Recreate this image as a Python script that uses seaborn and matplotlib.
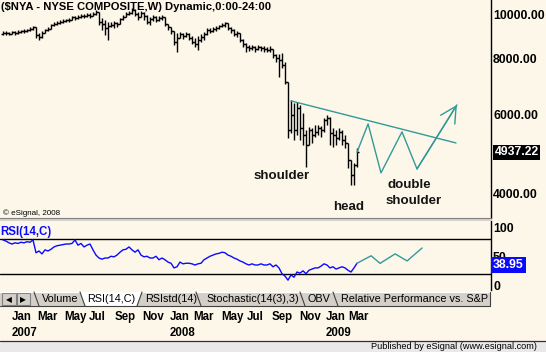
import numpy as np
import pandas as pd
import matplotlib
matplotlib.use("Agg")
import matplotlib.pyplot as plt
import seaborn as sns
from matplotlib.patches import Rectangle, Polygon
from matplotlib.transforms import blended_transform_factory, Bbox
import matplotlib.ticker as mticker

# ---------------- data ----------------
week = list(range(119))
open_ = [9070, 9117, 9117, 9070, 9164, 9117, 9164, 9211, 9211, 9258,
         9306, 9402, 9023, 8931, 9117, 9258, 9306, 9499, 9548, 9597,
         9647, 9696, 9746, 9746, 9898, 9847, 9898, 9949, 9949, 10000,
         9949, 10052, 10155, 9647, 9548, 9354, 9450, 9499, 9597, 9548,
         9797, 9898, 10052, 10103, 10260, 10052, 9898, 10103, 9949, 9647,
         9797, 9898, 9746, 9847, 9898, 9548, 9402, 9211, 8704, 8885,
         9070, 8977, 9070, 8885, 8704, 8615, 8794, 8931, 9070, 9258,
         9211, 9306, 9354, 9450, 9499, 9597, 9354, 9258, 9070, 9117,
         8794, 8615, 8484, 8440, 8484, 8397, 8484, 8440, 8397, 8354,
         8397, 8142, 8018, 7936, 7734, 7088, 5539, 5982, 5539, 6201,
         5596, 5398, 5128, 5539, 5398, 5482, 5596, 5539, 5831, 5891,
         5454, 5398, 5316, 5482, 5261, 5180, 4748, 4396, 4627]
high = [9211, 9211, 9164, 9211, 9211, 9258, 9258, 9306, 9306, 9402,
        9450, 9402, 9117, 9211, 9306, 9402, 9548, 9647, 9696, 9746,
        9797, 9797, 9847, 9949, 9949, 10000, 10052, 10052, 10103, 10103,
        10155, 10260, 10155, 9847, 9746, 9647, 9647, 9696, 9647, 9847,
        10000, 10155, 10208, 10366, 10313, 10155, 10208, 10155, 10000, 9898,
        10000, 9949, 9949, 10000, 9898, 9548, 9402, 9211, 9117, 9164,
        9117, 9164, 9117, 8977, 8885, 8977, 9070, 9164, 9354, 9354,
        9402, 9450, 9499, 9597, 9647, 9597, 9402, 9306, 9211, 9117,
        8840, 8660, 8571, 8571, 8527, 8571, 8527, 8527, 8484, 8527,
        8397, 8184, 8184, 8226, 7855, 7088, 6462, 6363, 6396, 6298,
        6044, 5539, 5625, 5596, 5683, 5683, 5654, 5891, 5982, 5921,
        5596, 5539, 5596, 5539, 5398, 5180, 4748, 4675, 5049]
low = [9023, 9023, 9023, 9070, 9023, 9070, 9117, 9117, 9164, 9211,
       9258, 8885, 8794, 8885, 9117, 9211, 9306, 9450, 9499, 9548,
       9597, 9647, 9647, 9746, 9746, 9797, 9847, 9847, 9898, 9847,
       9949, 10000, 9499, 9258, 9023, 8794, 9402, 9354, 9402, 9548,
       9746, 9898, 10000, 10052, 9949, 9746, 9898, 9746, 9548, 9499,
       9696, 9647, 9696, 9746, 9450, 9258, 9070, 8571, 8269, 8885,
       8840, 8931, 8794, 8615, 8484, 8354, 8704, 8794, 9023, 9117,
       9164, 9211, 9306, 9402, 9402, 9258, 9117, 8977, 8931, 8704,
       8484, 8269, 8311, 8354, 8269, 8354, 8311, 8269, 8269, 8269,
       8018, 7855, 7273, 7616, 7015, 5316, 5454, 5261, 5398, 5261,
       5128, 4580, 5128, 5180, 5343, 5398, 5343, 5482, 5683, 5128,
       5075, 5128, 5261, 5128, 5049, 4556, 4176, 4176, 4580]
close = [9117, 9117, 9070, 9164, 9117, 9164, 9211, 9211, 9258, 9306,
         9402, 9023, 8931, 9117, 9258, 9306, 9499, 9548, 9597, 9647,
         9696, 9746, 9746, 9898, 9847, 9898, 9949, 9949, 10000, 9949,
         10052, 10155, 9647, 9548, 9354, 9450, 9499, 9597, 9548, 9797,
         9898, 10052, 10103, 10260, 10052, 9898, 10103, 9949, 9647, 9797,
         9898, 9746, 9847, 9898, 9548, 9402, 9211, 8704, 8885, 9070,
         8977, 9070, 8885, 8704, 8615, 8794, 8931, 9070, 9258, 9211,
         9306, 9354, 9450, 9499, 9597, 9354, 9258, 9070, 9117, 8794,
         8615, 8484, 8440, 8484, 8397, 8484, 8440, 8397, 8354, 8397,
         8142, 8018, 7936, 7734, 7088, 5539, 5982, 5539, 6201, 5596,
         5398, 5128, 5539, 5398, 5482, 5596, 5539, 5831, 5891, 5454,
         5398, 5316, 5482, 5261, 5180, 4748, 4396, 4627, 4937.22]
rsi = [79, 77, 74, 72, 74, 73, 75, 74, 76, 75,
       79, 57, 60, 55, 62, 60, 63, 67, 69, 70,
       71, 72, 72, 73, 79, 70, 73, 67, 70, 72,
       62, 53, 48, 46, 48, 48, 51, 50, 53, 58,
       62, 63, 67, 62, 58, 62, 53, 50, 51, 48,
       48, 51, 45, 48, 45, 41, 39, 31, 33, 41,
       38, 39, 39, 38, 36, 38, 39, 45, 48, 51,
       53, 55, 56, 58, 57, 53, 51, 48, 46, 43,
       41, 38, 36, 38, 36, 36, 38, 36, 36, 38,
       33, 36, 31, 21, 17, 10, 19, 15, 24, 22,
       26, 21, 27, 29, 31, 31, 34, 38, 36, 31,
       33, 29, 31, 33, 31, 27, 24, 31, 38.95]

price_ticks = [4000, 6000, 8000, 10000]
price_tick_labels = ["4000.00", "6000.00", "8000.00", "10000.00"]
rsi_ticks = [0, 50, 100]
rsi_tick_labels = ["0", "50", "100"]
rsi_bands = [20, 80]
last_price = 4937.22
last_rsi = 38.95

month_weeks = [2.8, 11.3, 20.3, 28.7, 37.3, 46.3, 55.7, 63.3, 72.7, 81.3, 89.7, 98.7, 107.7, 115.0]
month_labels = ["Jan", "Mar", "May", "Jul", "Sep", "Nov", "Jan", "Mar", "May", "Jul", "Sep", "Nov", "Jan", "Mar"]
year_weeks = [2.8, 55.7, 107.7]
year_labels = ["2007", "2008", "2009"]

neck_weeks = [96, 151]
neck_prices = [6430, 5180]
proj_weeks = [118, 121.7, 126, 133, 138, 151.3]
proj_prices = [4937.22, 5713, 4441, 5484, 4532, 6298]
rsi_proj_weeks = [118, 122.7, 125.7, 130.7, 134.7, 139.7]
rsi_proj_vals = [38.95, 51.8, 38.8, 55.1, 43.0, 65.2]

tab_labels = ["Volume", "RSI(14,C)", "RSIstd(14)", "Stochastic(14(3),3)", "OBV",
              "Relative Performance vs. S&P500"]

# ---------------- style ----------------
BG = "#FCF7E9"
TEAL = "#339999"
BLUE = "#0A0AFF"
sns.set_theme(style="white")
plt.rcParams["font.family"] = ["Liberation Sans", "DejaVu Sans"]

W, H = 546, 352
fig = plt.figure(figsize=(W / 100, H / 100), dpi=100)
fig.patch.set_facecolor(BG)


def fb(top, bottom):
    return 1 - bottom / H, (bottom - top) / H


xmin, xmax = -1.0, 162.67

# price panel
b, h = fb(0, 218)
ax = fig.add_axes([0, b, 491 / W, h], zorder=1)
ax.set_facecolor(BG)
ax.set_yscale("log")
ax.set_xlim(xmin, xmax)
ax.set_ylim(3522, 10801)

wk = np.array(week, dtype=float)
ax.vlines(wk, low, high, color="black", lw=1.0)
ax.hlines(open_, wk - 0.55, wk, color="black", lw=1.0)
ax.hlines(close, wk, wk + 0.55, color="black", lw=1.0)

sns.lineplot(x=neck_weeks, y=neck_prices, ax=ax, color=TEAL, lw=1.0)
sns.lineplot(x=proj_weeks, y=proj_prices, ax=ax, color=TEAL, lw=1.0, sort=False)
ax.annotate("", xy=(proj_weeks[-1], proj_prices[-1]),
            xytext=(proj_weeks[-2], proj_prices[-2]),
            arrowprops=dict(arrowstyle="->,head_length=0.95,head_width=0.5",
                            color=TEAL, lw=1.0, shrinkA=0, shrinkB=0))

ax.yaxis.tick_right()
ax.yaxis.set_major_locator(mticker.FixedLocator(price_ticks))
ax.yaxis.set_minor_locator(mticker.NullLocator())
ax.set_yticklabels(price_tick_labels, fontweight="bold", fontsize=8.8, color="black")
ax.tick_params(axis="y", length=0, pad=1.5)
ax.set_xticks([])
ax.set_xlabel("")
ax.set_ylabel("")
for s in ["left", "top", "bottom"]:
    ax.spines[s].set_visible(False)
ax.spines["right"].set_color("black")
ax.spines["right"].set_linewidth(1.0)

ax.annotate(f"{last_price:.2f}", xy=(1, last_price), xycoords=("axes fraction", "data"),
            xytext=(2.5, 0), textcoords="offset points", ha="left", va="center",
            color="white", fontweight="bold", fontsize=8.8,
            bbox=dict(boxstyle="square,pad=0.12", fc="black", ec="none"))

# RSI panel
b, h = fb(221, 290)
rax = fig.add_axes([0, b, 491 / W, h], zorder=1)
rax.set_facecolor(BG)
rax.set_xlim(xmin, xmax)
rax.set_ylim(-6.9, 111.5)
for v in rsi_bands:
    rax.axhline(v, color="black", lw=1.0)
sns.lineplot(x=week, y=rsi, ax=rax, color=BLUE, lw=1.0)
sns.lineplot(x=rsi_proj_weeks, y=rsi_proj_vals, ax=rax, color=TEAL, lw=1.0, sort=False)
rax.yaxis.tick_right()
rax.set_yticks(rsi_ticks)
rax.set_yticklabels(rsi_tick_labels, fontweight="bold", fontsize=8.8, color="black")
rax.tick_params(axis="y", length=0, pad=1.5)
rax.set_xticks([])
rax.set_xlabel("")
rax.set_ylabel("")
for s in ["left", "top", "bottom"]:
    rax.spines[s].set_visible(False)
rax.spines["right"].set_color("black")
rax.spines["right"].set_linewidth(1.0)
rax.annotate(f"{last_rsi:.2f}", xy=(1, last_rsi), xycoords=("axes fraction", "data"),
             xytext=(1.5, -1), textcoords="offset points", ha="left", va="center",
             color="white", fontweight="bold", fontsize=8.8,
             bbox=dict(boxstyle="square,pad=0.15", fc=BLUE, ec="none"))

# month / year labels under the tabs, placed on the RSI x scale
trans = blended_transform_factory(rax.transData, fig.transFigure)
for m, lab in zip(month_weeks, month_labels):
    rax.text(m, 1 - 320 / H, lab, transform=trans, ha="left", va="baseline",
             fontsize=8.3, fontweight="bold", color="black", clip_on=False)
for m, lab in zip(year_weeks, year_labels):
    rax.text(m, 1 - 336 / H, lab, transform=trans, ha="left", va="baseline",
             fontsize=8.3, fontweight="bold", color="black", clip_on=False)

# ---------------- chrome (window furniture) ----------------
ch = fig.add_axes([0, 0, 1, 1], zorder=5)
ch.set_facecolor("none")
ch.set_xlim(0, W)
ch.set_ylim(H, 0)
ch.axis("off")

ch.text(1, 7.5, "($NYA - NYSE COMPOSITE,W) Dynamic,0:00-24:00", ha="left", va="center",
        fontsize=8.1, fontweight="bold", color="black")
ch.text(3, 215, "\u00a9 eSignal, 2008", ha="left", va="baseline", fontsize=5.8, color="black")

# separator between panels
ch.add_patch(Rectangle((0, 218), 491, 3, fc="#D6D3CC", ec="none"))
ch.plot([0, 491], [217.8, 217.8], color="#808080", lw=0.8)

ch.text(0, 232.5, "RSI(14,C)", ha="left", va="center", fontsize=8.3, fontweight="bold", color=BLUE)

# annotations of the pattern
for txt, x, y in [("shoulder", 254, 179), ("head", 333, 210), ("double", 387, 188), ("shoulder", 386, 204)]:
    ch.text(x, y, txt, ha="left", va="baseline", fontsize=9.6, fontweight="bold", color="#141414")

# tab strip
ch.add_patch(Rectangle((0, 292), 490, 14, fc="#D4D0C8", ec="none"))
ch.plot([0, 490], [292.2, 292.2], color="#FFFFFF", lw=0.8)
ch.plot([0, 490], [305.8, 305.8], color="#404040", lw=0.8)
ch.plot([490, 490], [292, 306], color="#404040", lw=0.8)
# scroll buttons
for x0, glyph in [(2, "\u25C0"), (16.5, "\u25B6")]:
    ch.add_patch(Rectangle((x0, 293), 13.5, 12, fc="#D4D0C8", ec="#808080", lw=0.8))
    ch.text(x0 + 6.75, 299.5, glyph, ha="center", va="center", fontsize=5.5,
            color="black", family="DejaVu Sans")
# active tab
ch.add_patch(Polygon([[80, 292], [142, 292], [137, 306], [85, 306]], closed=True,
                     fc="#FFFFFF", ec="none"))
for xs in [34, 80, 196, 300, 333]:
    ch.plot([xs, xs + 5], [292, 306], color="#404040", lw=0.8)
ch.plot([142, 137], [292, 306], color="#404040", lw=0.8)
tab_x = [42, 87, 145, 206, 308, 341]
clip_box = Bbox.from_extents(0, H - 308, 488, H - 290)
for tx, lab in zip(tab_x, tab_labels):
    t = ch.text(tx, 299.5, lab, ha="left", va="center", fontsize=7.8, color="black")
    t.set_clip_box(clip_box)
    t.set_clip_on(True)

# bottom status bar
ch.add_patch(Rectangle((0, 340.5), W, 12, fc="#E9E9E9", ec="none"))
ch.plot([0, W], [340.5, 340.5], color="#303030", lw=0.9)
ch.text(537, 346.5, "Published by eSignal (www.esignal.com)", ha="right", va="center",
        fontsize=6.6, color="black")

fig.savefig("out.png", dpi=100, facecolor=BG)
